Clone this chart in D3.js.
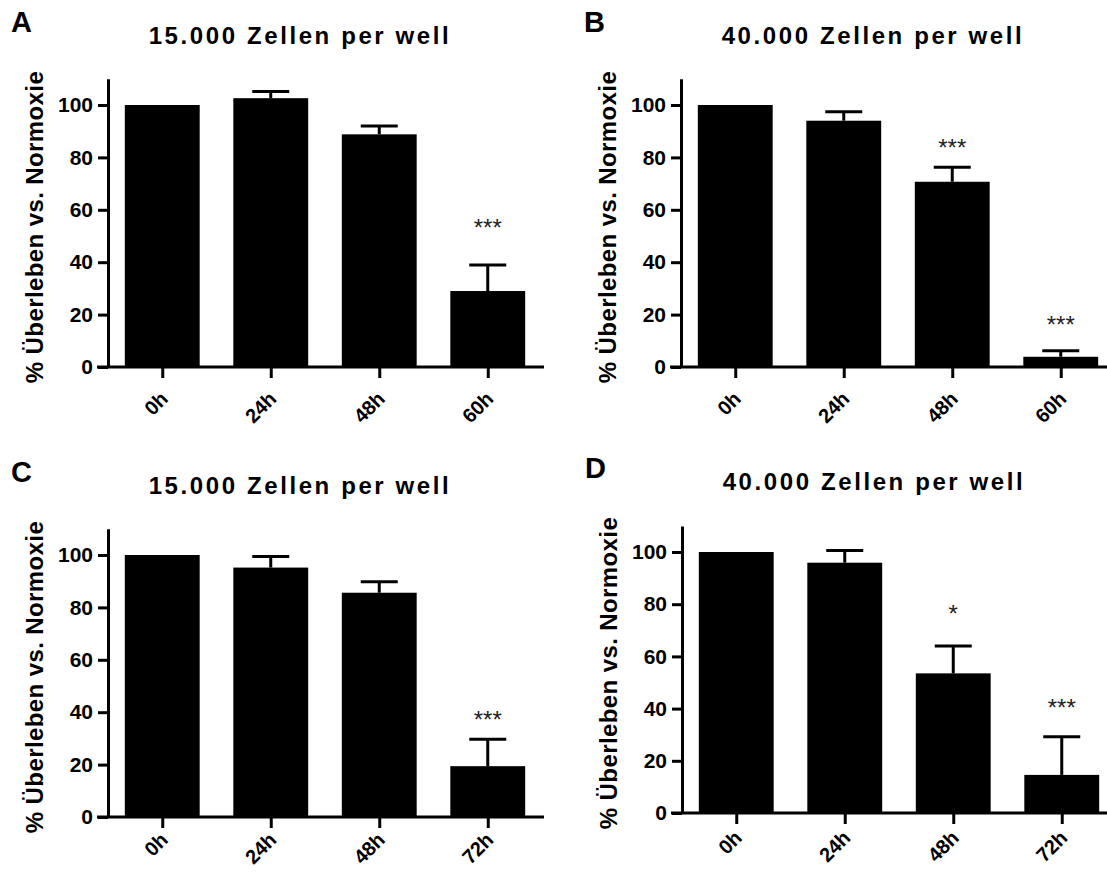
<!DOCTYPE html>
<html>
<head>
<meta charset="utf-8">
<script src="https://cdn.jsdelivr.net/npm/d3@7"></script>
<style>
  body { margin: 0; background: #fff; }
  svg { font-family: "Liberation Sans", Arial, sans-serif; }
</style>
</head>
<body>
<svg id="chart" width="1107" height="875"></svg>
<script>
// panel meta
var letters = ["A", "B", "C", "D"];
var titles = ["15.000 Zellen per well", "40.000 Zellen per well", "15.000 Zellen per well", "40.000 Zellen per well"];
var yLabel = "% Überleben vs. Normoxie";
var yTicks = [0, 20, 40, 60, 80, 100];

// time points
var timesTop = ["0h", "24h", "48h", "60h"];
var timesBottom = ["0h", "24h", "48h", "72h"];

// means (% of normoxia)
var meanA = [100, 102.6, 88.8, 29.0];
var meanB = [100, 94.0, 70.7, 3.9];
var meanC = [100, 95.2, 85.6, 19.4];
var meanD = [100, 95.9, 53.5, 14.6];

// upper error (SEM)
var errA = [0, 2.6, 3.2, 9.9];
var errB = [0, 3.4, 5.5, 2.3];
var errC = [0, 4.2, 4.2, 10.3];
var errD = [0, 4.7, 10.5, 14.6];

// significance marks and the value height they sit at
var sigA = ["", "", "", "***"];
var sigB = ["", "", "***", "***"];
var sigC = ["", "", "", "***"];
var sigD = ["", "", "*", "***"];
var sigAtA = [0, 0, 0, 55];
var sigAtB = [0, 0, 85.6, 18];
var sigAtC = [0, 0, 0, 39];
var sigAtD = [0, 0, 78, 42];

var panels = [
    {letter: letters[0], title: titles[0], cats: timesTop,    mean: meanA, err: errA, sig: sigA, sigAt: sigAtA, x0: 108, x1: 542, y0: 367, y100: 105, labDy: 33},
    {letter: letters[1], title: titles[1], cats: timesTop,    mean: meanB, err: errB, sig: sigB, sigAt: sigAtB, x0: 681, x1: 1115, y0: 367, y100: 105, labDy: 33},
    {letter: letters[2], title: titles[2], cats: timesBottom, mean: meanC, err: errC, sig: sigC, sigAt: sigAtC, x0: 108, x1: 542, y0: 817, y100: 555, labDy: 24},
    {letter: letters[3], title: titles[3], cats: timesBottom, mean: meanD, err: errD, sig: sigD, sigAt: sigAtD, x0: 682, x1: 1116, y0: 813, y100: 552, labDy: 26}
];

var svg = d3.select("#chart");

panels.forEach(function(p) {
    var g = svg.append("g");

    var x = d3.scalePoint()
        .domain(p.cats)
        .range([p.x0, p.x1])
        .padding(0.5);
    var step = x.step(),
        barW = step * 0.69,
        capW = 37;

    var unit = (p.y0 - p.y100) / 100;
    var y = d3.scaleLinear()
        .domain([0, 110])
        .range([p.y0, p.y0 - 110 * unit]);

    var rows = p.cats.map(function(c, i) {
        return {cat: c, mean: p.mean[i], err: p.err[i], sig: p.sig[i], sigAt: p.sigAt[i]};
    });

    // bars
    g.selectAll("rect.bar")
        .data(rows)
        .enter().append("rect")
        .attr("class", "bar")
        .attr("x", function(d) { return x(d.cat) - barW / 2; })
        .attr("y", function(d) { return y(d.mean); })
        .attr("width", barW)
        .attr("height", function(d) { return y(0) - y(d.mean); })
        .attr("fill", "#000");

    // error bars (upper only)
    var eb = g.selectAll("g.err")
        .data(rows.filter(function(d) { return d.err > 0; }))
        .enter().append("g")
        .attr("class", "err")
        .attr("stroke", "#000")
        .attr("stroke-width", 3);
    eb.append("line")
        .attr("x1", function(d) { return x(d.cat); })
        .attr("x2", function(d) { return x(d.cat); })
        .attr("y1", function(d) { return y(d.mean); })
        .attr("y2", function(d) { return y(d.mean + d.err); });
    eb.append("line")
        .attr("x1", function(d) { return x(d.cat) - capW / 2; })
        .attr("x2", function(d) { return x(d.cat) + capW / 2; })
        .attr("y1", function(d) { return y(d.mean + d.err); })
        .attr("y2", function(d) { return y(d.mean + d.err); });

    // stars
    g.selectAll("text.sig")
        .data(rows.filter(function(d) { return d.sig; }))
        .enter().append("text")
        .attr("class", "sig")
        .attr("x", function(d) { return x(d.cat); })
        .attr("y", function(d) { return y(d.sigAt) + 13; })
        .attr("text-anchor", "middle")
        .attr("font-size", 24)
        .attr("fill", "#222")
        .text(function(d) { return d.sig; });

    // y axis
    var yAxis = d3.axisLeft(y)
        .tickValues(yTicks)
        .tickSize(10)
        .tickSizeOuter(0)
        .tickPadding(5);
    var ya = g.append("g")
        .attr("transform", "translate(" + p.x0 + ",0)")
        .call(yAxis);
    ya.selectAll("path, line").attr("stroke", "#000").attr("stroke-width", 3);
    ya.selectAll("text")
        .attr("font-size", 21)
        .attr("font-weight", "bold")
        .attr("font-family", "'Liberation Sans', Arial, sans-serif")
        .attr("fill", "#000");

    // x axis
    var xAxis = d3.axisBottom(x)
        .tickSize(11)
        .tickSizeOuter(0)
        .tickFormat("");
    var xa = g.append("g")
        .attr("transform", "translate(0," + p.y0 + ")")
        .call(xAxis);
    xa.select(".domain").remove();
    xa.selectAll("line").attr("stroke", "#000").attr("stroke-width", 3);
    g.append("line")
        .attr("x1", p.x0 - 11)
        .attr("x2", Math.min(p.x1 + 2, 1107))
        .attr("y1", p.y0)
        .attr("y2", p.y0)
        .attr("stroke", "#000")
        .attr("stroke-width", 3);

    // rotated category labels
    g.selectAll("text.cat")
        .data(p.cats)
        .enter().append("text")
        .attr("class", "cat")
        .attr("transform", function(d) {
            return "translate(" + (x(d) + 7) + "," + (p.y0 + p.labDy) + ") rotate(-45)";
        })
        .attr("text-anchor", "end")
        .attr("font-size", 20)
        .attr("font-weight", "bold")
        .text(function(d) { return d; });

    // y label
    g.append("text")
        .attr("transform", "translate(" + (p.x0 - 65) + "," + (p.y0 - 140) + ") rotate(-90)")
        .attr("text-anchor", "middle")
        .attr("font-size", 24)
        .attr("font-weight", "bold")
        .attr("letter-spacing", 0.4)
        .text(yLabel);

    // title
    g.append("text")
        .attr("x", (p.x0 + p.x1) / 2 - 25)
        .attr("y", p.y0 - 323)
        .attr("text-anchor", "middle")
        .attr("font-size", 24)
        .attr("font-weight", "bold")
        .attr("letter-spacing", 2.6)
        .text(p.title);

    // panel letter
    g.append("text")
        .attr("x", p.x0 - 97)
        .attr("y", p.y0 - 335)
        .attr("font-size", 29)
        .attr("font-weight", "bold")
        .text(p.letter);
});
</script>
</body>
</html>
